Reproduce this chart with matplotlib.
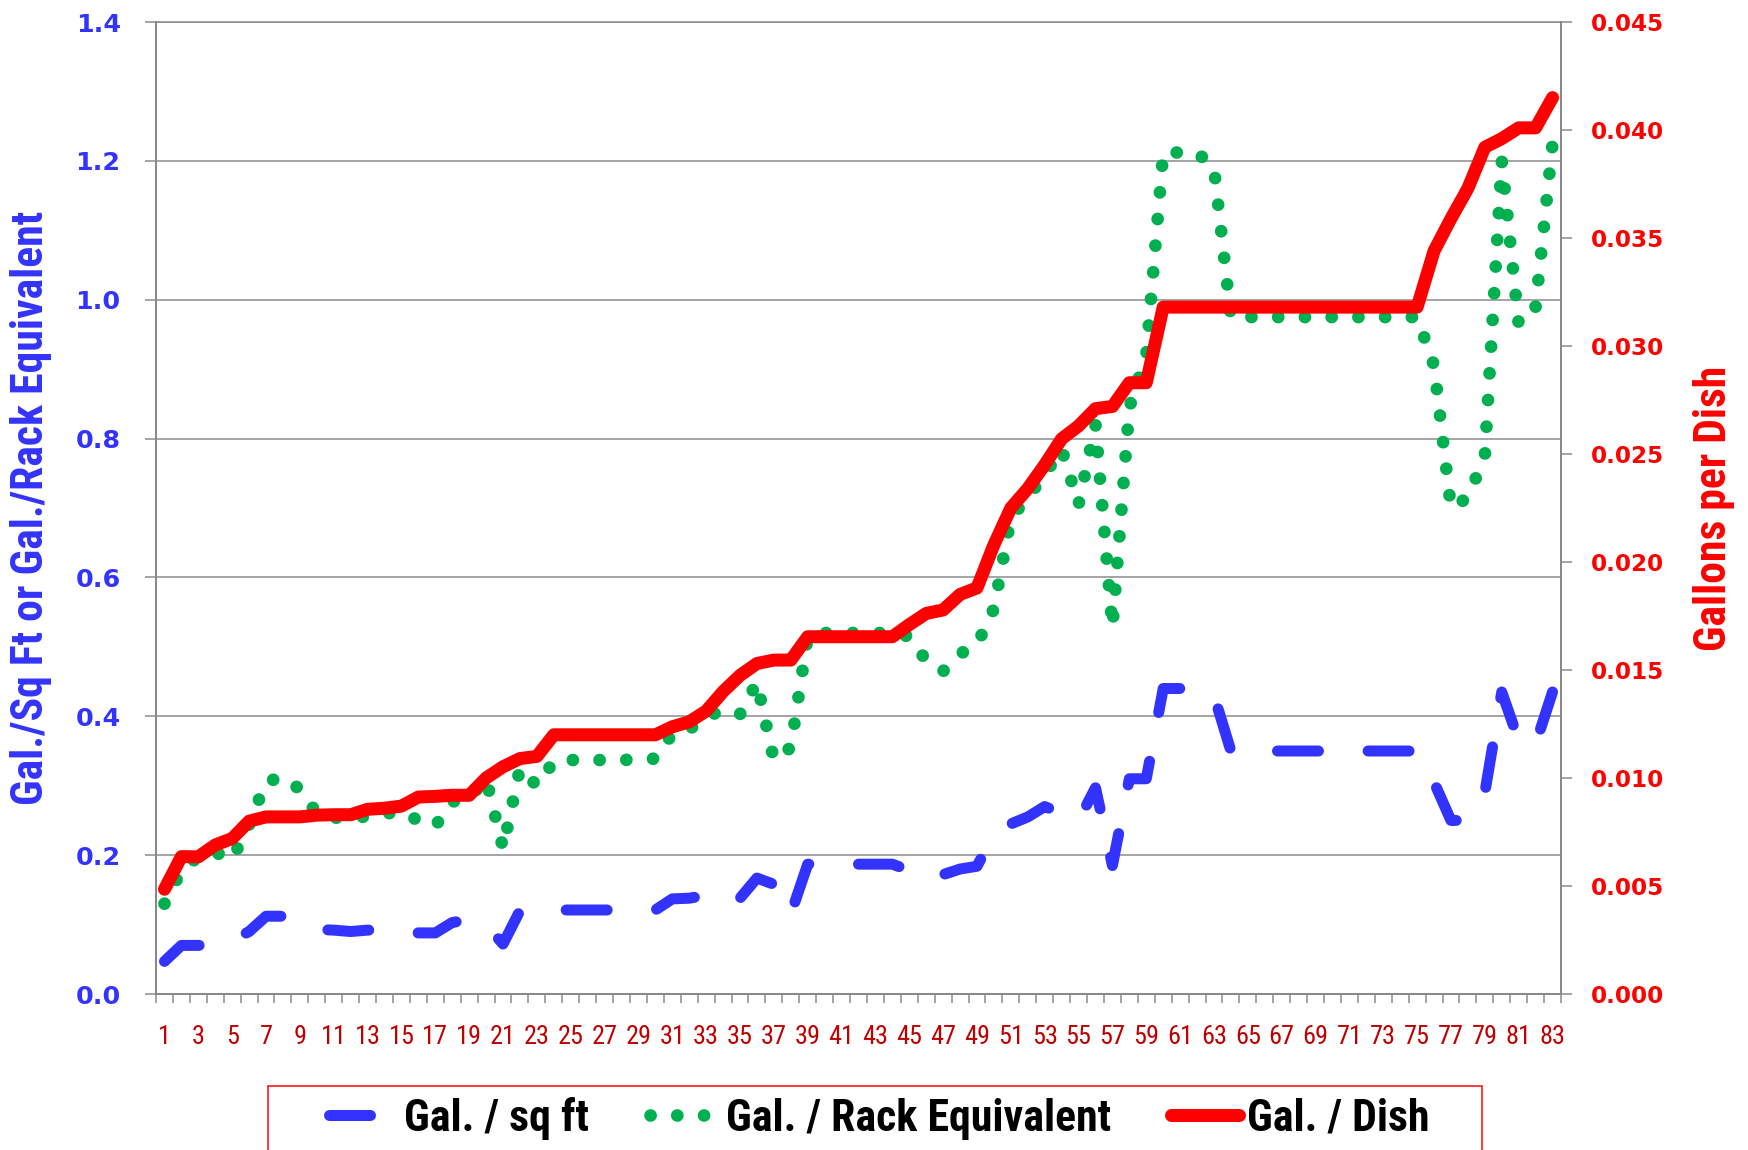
import numpy as np
import matplotlib
matplotlib.use('Agg')
import matplotlib.pyplot as plt
from matplotlib import font_manager as fm
from matplotlib.font_manager import FontProperties
from matplotlib.patches import Rectangle

plt.rcParams['lines.scale_dashes'] = False

# ---------------- data ----------------
categories = list(range(1, 84))
x_labels = [str(c) if c % 2 == 1 else '' for c in categories]

gal_per_sqft = [
    0.047, 0.070, 0.070, 0.070, 0.077, 0.090, 0.112, 0.112, 0.100, 0.093,
    0.092, 0.090, 0.092, 0.092, 0.088, 0.088, 0.088, 0.103, 0.107, 0.100,
    0.072, 0.120, 0.121, 0.121, 0.121, 0.121, 0.121, 0.121, 0.121, 0.121,
    0.137, 0.138, 0.142, 0.150, 0.138, 0.167, 0.158, 0.115, 0.187, 0.187,
    0.187, 0.187, 0.187, 0.187, 0.178, 0.165, 0.172, 0.180, 0.184, 0.230,
    0.245, 0.255, 0.270, 0.260, 0.250, 0.297, 0.185, 0.310, 0.310, 0.440,
    0.440, 0.440, 0.430, 0.350, 0.350, 0.350, 0.350, 0.350, 0.350, 0.350,
    0.350, 0.350, 0.350, 0.350, 0.350, 0.305, 0.250, 0.250, 0.290, 0.435,
    0.365, 0.360, 0.435]

gal_per_rack = [
    0.130, 0.178, 0.198, 0.204, 0.194, 0.244, 0.306, 0.312, 0.295, 0.260,
    0.254, 0.253, 0.256, 0.260, 0.262, 0.250, 0.242, 0.277, 0.282, 0.310,
    0.210, 0.325, 0.300, 0.335, 0.337, 0.337, 0.337, 0.337, 0.338, 0.339,
    0.375, 0.381, 0.400, 0.408, 0.403, 0.449, 0.337, 0.355, 0.515, 0.520,
    0.520, 0.520, 0.520, 0.520, 0.515, 0.480, 0.465, 0.490, 0.503, 0.555,
    0.686, 0.715, 0.748, 0.785, 0.705, 0.820, 0.528, 0.845, 0.920, 1.212,
    1.212, 1.212, 1.190, 0.975, 0.975, 0.975, 0.975, 0.975, 0.975, 0.975,
    0.975, 0.975, 0.975, 0.975, 0.975, 0.905, 0.700, 0.715, 0.775, 1.200,
    0.965, 0.990, 1.225]

gal_per_dish = [
    0.00485, 0.00636, 0.00635, 0.0069, 0.0072, 0.0080, 0.0082, 0.0082, 0.0082, 0.00828,
    0.0083, 0.0083, 0.00855, 0.0086, 0.0087, 0.00912, 0.00915, 0.0092, 0.0092, 0.0100,
    0.01052, 0.0109, 0.0110, 0.0120, 0.0120, 0.0120, 0.0120, 0.0120, 0.0120, 0.0120,
    0.01237, 0.0126, 0.0131, 0.0140, 0.01475, 0.0153, 0.01546, 0.01546, 0.01654, 0.01654,
    0.01654, 0.01654, 0.01654, 0.01654, 0.0171, 0.01762, 0.01778, 0.0185, 0.0188, 0.0208,
    0.0225, 0.0234, 0.0245, 0.0257, 0.0263, 0.0271, 0.0272, 0.0283, 0.0283, 0.0318,
    0.0318, 0.0318, 0.0318, 0.0318, 0.0318, 0.0318, 0.0318, 0.0318, 0.0318, 0.0318,
    0.0318, 0.0318, 0.0318, 0.0318, 0.0318, 0.0344, 0.0359, 0.0373, 0.0392, 0.0396,
    0.0401, 0.0401, 0.0415]

left_ticks = [0.0, 0.2, 0.4, 0.6, 0.8, 1.0, 1.2, 1.4]
right_ticks = [0.000, 0.005, 0.010, 0.015, 0.020, 0.025, 0.030, 0.035, 0.040, 0.045]

series_names = ['Gal. / sq ft', 'Gal. / Rack Equivalent', 'Gal. / Dish']
left_title = 'Gal./Sq Ft or Gal./Rack Equivalent'
right_title = 'Gallons per Dish'

# ---------------- style ----------------
W, H = 1748, 1150
PT = 0.72  # pixels -> points at dpi 100
BLUE, GREEN, RED = '#3333FF', '#00B050', '#FF0000'
XLAB = '#C00000'
GRID = '#898989'

avail = {f.name for f in fm.fontManager.ttflist}
def pick(*cands):
    for c in cands:
        if c in avail:
            return c
    return 'DejaVu Sans'

NARROW = pick('Liberation Sans Narrow', 'DejaVu Sans Condensed', 'Roboto Condensed',
              'Open Sans Condensed', 'Arial Narrow')
TICKF = 'DejaVu Sans'

fig = plt.figure(figsize=(W / 100, H / 100), dpi=100)
rend = fig.canvas.get_renderer()

def fit_size(txt, family, weight, target_px):
    t = fig.text(0, 0, txt, fontsize=20, family=family, weight=weight)
    w = t.get_window_extent(renderer=rend).width
    t.remove()
    return 20 * target_px / w

lfs = fit_size('1.4', TICKF, 'bold', 45)
rfs = fit_size('0.040', TICKF, 'bold', 73)
xfs = fit_size('83', NARROW, 'normal', 26)
ltfs = fit_size(left_title, NARROW, 'bold', 595)
rtfs = fit_size(right_title, NARROW, 'bold', 285)
legfs = fit_size(series_names[1], NARROW, 'bold', 385)

L, R, T, B = 156, 1561, 22, 994
ax = fig.add_axes([L / W, 1 - B / H, (R - L) / W, (B - T) / H])
ax2 = ax.twinx()

l1, = ax.plot(categories, gal_per_sqft, color=BLUE, lw=11 * PT,
              linestyle=(0, (41 * PT, 49.6 * PT)), dash_capstyle='round',
              dash_joinstyle='round', zorder=3)
l2, = ax.plot(categories, gal_per_rack, color=GREEN, lw=12.7 * PT,
              linestyle=(0, (0.1, 26.6 * PT)), dash_capstyle='round',
              dash_joinstyle='round', zorder=4)
l3, = ax2.plot(categories, gal_per_dish, color=RED, lw=13 * PT,
               solid_capstyle='round', solid_joinstyle='round', zorder=5)

ax.set_xlim(0.5, 83.5)
ax.set_ylim(0, 1.4)
ax2.set_ylim(0, 0.045)

ax.set_yticks(left_ticks)
ax.set_yticklabels([f'{v:.1f}' for v in left_ticks])
ax2.set_yticks(right_ticks)
ax2.set_yticklabels([f'{v:.3f}' for v in right_ticks])
ax.set_xticks(categories)
ax.set_xticklabels(x_labels)
ax.set_xticks(np.arange(0.5, 84.0, 1.0), minor=True)

ax.tick_params(axis='x', which='major', length=0, pad=22, labelcolor=XLAB, labelsize=xfs)
ax.tick_params(axis='x', which='minor', length=9 * PT, width=1.5 * PT, color=GRID, direction='out')
ax.tick_params(axis='y', which='major', length=11 * PT, width=1.5 * PT, color=GRID,
               direction='out', pad=17.5, labelcolor=BLUE, labelsize=lfs)
ax2.tick_params(axis='y', which='major', length=11 * PT, width=1.5 * PT, color=GRID,
                direction='out', pad=13.8, labelcolor=RED, labelsize=rfs)

for lb in ax.get_yticklabels() + ax2.get_yticklabels():
    lb.set_family(TICKF)
    lb.set_fontweight('bold')
for lb in ax.get_xticklabels():
    lb.set_family(NARROW)

ax.yaxis.grid(True, color=GRID, lw=1.5 * PT)
ax.set_axisbelow(True)

for s in ['left', 'bottom']:
    ax.spines[s].set_color(GRID)
    ax.spines[s].set_linewidth(2 * PT)
ax.spines['top'].set_color(GRID)
ax.spines['top'].set_linewidth(1.5 * PT)
ax.spines['right'].set_visible(False)
for s in ['left', 'bottom', 'top']:
    ax2.spines[s].set_visible(False)
ax2.spines['right'].set_color(GRID)
ax2.spines['right'].set_linewidth(2 * PT)

fig.text(31.5 / W, 1 - 508 / H, left_title, rotation=90, ha='center', va='center',
         color=BLUE, fontsize=ltfs, family=NARROW, weight='bold')
fig.text(1714 / W, 1 - 508.5 / H, right_title, rotation=90, ha='center', va='center',
         color=RED, fontsize=rtfs, family=NARROW, weight='bold')

# legend
fspx = legfs / PT
fig.legend(handles=[l1, l2, l3], labels=series_names, loc='center left',
           bbox_to_anchor=(328.5 / W, 1 - 1118 / H), ncol=3, frameon=False,
           borderpad=0, borderaxespad=0, handlelength=68 / fspx,
           handletextpad=8 / fspx, columnspacing=60 / fspx,
           prop=FontProperties(family=NARROW, weight='bold', size=legfs))
fig.add_artist(Rectangle((267.5 / W, -0.05), (1482 - 267.5) / W, (1 - 1086 / H) + 0.05,
                         transform=fig.transFigure, fill=False, edgecolor=RED,
                         lw=1.5 * PT))

fig.savefig('out.png', dpi=100)
